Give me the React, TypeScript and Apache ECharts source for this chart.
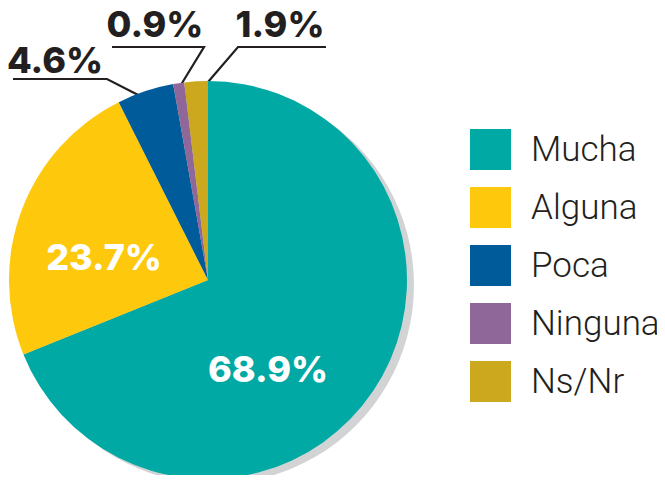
import React, { useEffect, useRef } from "react";
import * as echarts from "echarts";

const categories = ["Mucha", "Alguna", "Poca", "Ninguna", "Ns/Nr"];
const values = [68.9, 23.7, 4.6, 0.9, 1.9];
const colors = ["#00a9a3", "#fec90c", "#005b9a", "#8f6899", "#cba81e"];
const insideLabel = [true, true, false, false, false];

// label anchor positions (px) and leader lines for outer labels
const labelPos: Record<number, [number, number]> = {
  0: [268, 369],
  1: [104, 257],
  2: [55, 60],
  3: [155, 24],
  4: [280, 24],
};
const leaderLines: Record<number, number[][]> = {
  2: [[146, 99], [107, 79], [13, 79]],
  3: [[179, 88], [204, 47], [112, 47]],
  4: [[202, 89], [238, 47], [326, 47]],
};

export default function App() {
  const ref = useRef<HTMLDivElement>(null);
  useEffect(() => {
    if (!ref.current) return;
    const chart = echarts.init(ref.current, null, { renderer: "svg" });
    const boldFont = {
      fontFamily: "Inter",
      fontWeight: 800 as any,
      fontSize: 36,
    };
    chart.setOption({
      animation: false,
      legend: {
        orient: "vertical",
        left: 470,
        top: 129,
        padding: 0,
        itemWidth: 41,
        itemHeight: 41,
        itemGap: 17,
        icon: "rect",
        selectedMode: false,
        data: categories,
        textStyle: {
          fontFamily: "Roboto",
          fontWeight: 300,
          fontSize: 35,
          color: "#231f20",
          padding: [0, 0, 0, 15],
        },
      },
      series: [
        {
          type: "pie",
          silent: true,
          center: [215, 285],
          radius: 199,
          label: { show: false },
          labelLine: { show: false },
          data: [{ value: 1, name: "_shadow", itemStyle: { color: "#d1d3d4" } }],
          z: 1,
        },
        {
          type: "pie",
          center: [208, 280],
          radius: 199,
          startAngle: 90,
          clockwise: true,
          z: 2,
          avoidLabelOverlap: false,
          data: categories.map((c, i) => ({
            name: c,
            value: values[i],
            itemStyle: { color: colors[i] },
            label: {
              show: true,
              position: insideLabel[i] ? "inside" : "outside",
              formatter: () => values[i].toFixed(1) + "%",
              color: insideLabel[i] ? "#ffffff" : "#231f20",
              overflow: "none",
              width: 200,
              ...boldFont,
            },
            labelLine: {
              show: !insideLabel[i],
              lineStyle: { color: "#231f20", width: 2.2 },
            },
          })),
          labelLayout: (params: any) => {
            const p = labelPos[params.dataIndex];
            const out: any = {
              x: p[0],
              y: p[1],
              align: "center",
              verticalAlign: "middle",
              hideOverlap: false,
            };
            if (leaderLines[params.dataIndex]) {
              out.labelLinePoints = leaderLines[params.dataIndex];
            }
            return out;
          },
        },
      ],
    });
    return () => chart.dispose();
  }, []);
  return <div ref={ref} style={{ width: 665, height: 483, margin: -8 }} />;
}
